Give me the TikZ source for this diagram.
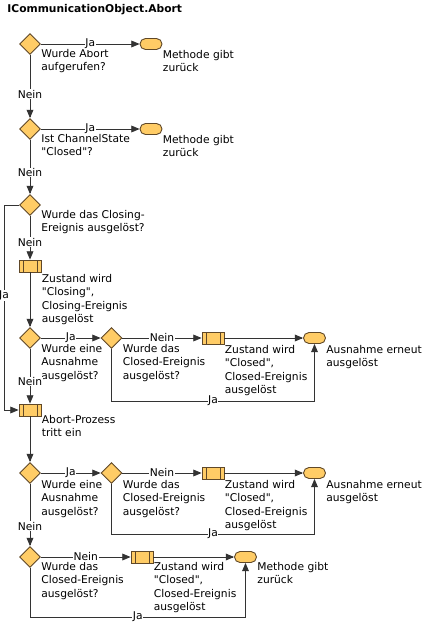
\documentclass[tikz,border=0pt]{standalone}
\usepackage{fontspec}
\setmainfont{DejaVu Sans}[Ligatures=TeXOff]
\usepackage{tikz}
\usetikzlibrary{positioning}
\usetikzlibrary{shapes.geometric,arrows}
\definecolor{boxfill}{RGB}{255,204,102}
\definecolor{boxline}{RGB}{96,72,40}
\definecolor{flowline}{RGB}{51,51,51}
\tikzset{%
  decision/.style = {draw=boxline, fill=boxfill, diamond, aspect=1,
    minimum width=21pt, minimum height=21pt, inner sep=0pt}, % Frage
  process/.style  = {draw=boxline, fill=boxfill, rectangle, inner sep=0pt,
    minimum width=22pt, minimum height=12pt,
    path picture={\draw[boxline]
      ([xshift=4pt]path picture bounding box.north west) -- ([xshift=4pt]path picture bounding box.south west)
      ([xshift=-4pt]path picture bounding box.north east) -- ([xshift=-4pt]path picture bounding box.south east);}},
  terminal/.style = {draw=boxline, fill=boxfill, rectangle, rounded corners=5.5pt,
    minimum width=22pt, minimum height=11pt, inner sep=0pt}, % Ende
  note/.style     = {anchor=north west, align=left, inner sep=0pt,
    font=\fontsize{10.7}{13.3}\selectfont},
  tag/.style      = {fill=white, inner sep=0.6pt, font=\fontsize{10.7}{13.3}\selectfont}
}

\begin{document}
\begin{tikzpicture}[x=1pt, y=-1pt, thick, line width=0.9pt, draw=flowline, >=triangle 45]

	\useasboundingbox (0,0) rectangle (424,623);

	\draw node at (7,10) [anchor=west, inner sep=0pt, font=\bfseries\fontsize{10.7}{13.3}\selectfont] (title) {ICommunicationObject.Abort};

	\draw node at (30,44) [decision] (ask1) {};
	\draw node [decision, below of=ask1, node distance = 85pt] (ask2) {};
	\draw node [decision, below of=ask2, node distance = 76pt] (ask3) {};
	\draw node [process, below of=ask3, node distance = 61pt] (proc1) {};
	\draw node [decision, below of=proc1, node distance = 72pt] (ask4) {};
	\draw node [process, below of=ask4, node distance = 72pt] (proc3) {};
	\draw node [decision, below of=proc3, node distance = 63pt] (ask6) {};
	\draw node [decision, below of=ask6, node distance = 84pt] (ask8) {};

	\draw node [terminal, right of=ask1, node distance = 121pt] (end1) {};
	\draw node [terminal, right of=ask2, node distance = 121pt] (end2) {};

	\draw node [decision, right of=ask4, node distance = 81.5pt] (ask5) {};
	\draw node [process, right of=ask5, node distance = 101.5pt] (proc2) {};
	\draw node [terminal, right of=proc2, node distance = 101.5pt] (end3) {};

	\draw node [decision, right of=ask6, node distance = 81.5pt] (ask7) {};
	\draw node [process, right of=ask7, node distance = 101.5pt] (proc4) {};
	\draw node [terminal, right of=proc4, node distance = 101.5pt] (end4) {};

	\draw node [process, right of=ask8, node distance = 112pt] (proc5) {};
	\draw node [terminal, right of=proc5, node distance = 103.5pt] (end5) {};

	% texts
	\node [note] (txt1) at ([yshift=-5pt]ask1.east) {Wurde Abort\\aufgerufen?};
	\node [note] (txt2) at ([yshift=-5pt]ask2.east) {Ist ChannelState\\"Closed"?};
	\node [note] (txt3) at ([yshift=-5pt]ask3.east) {Wurde das Closing-\\Ereignis ausgelöst?};
	\node [note] (txt4) at ([yshift=-6pt]ask4.east) {Wurde eine\\Ausnahme\\ausgelöst?};
	\node [note] (txt5) at ([yshift=-6pt]ask5.east) {Wurde das\\Closed-Ereignis\\ausgelöst?};
	\node [note] (txt6) at ([yshift=-7pt]ask6.east) {Wurde eine\\Ausnahme\\ausgelöst?};
	\node [note] (txt7) at ([yshift=-7pt]ask7.east) {Wurde das\\Closed-Ereignis\\ausgelöst?};
	\node [note] (txt8) at ([yshift=-5pt]ask8.east) {Wurde das\\Closed-Ereignis\\ausgelöst?};

	\node [note] (txt9) at ([yshift=-8pt]proc1.east) {Zustand wird\\"Closing",\\Closing-Ereignis\\ausgelöst};
	\node [note] (txt10) at ([yshift=-7pt]proc2.east) {Zustand wird\\"Closed",\\Closed-Ereignis\\ausgelöst};
	\node [note] (txt11) at ([yshift=-5pt]proc3.east) {Abort-Prozess\\tritt ein};
	\node [note] (txt12) at ([yshift=-7pt]proc4.east) {Zustand wird\\"Closed",\\Closed-Ereignis\\ausgelöst};
	\node [note] (txt13) at ([yshift=-5pt]proc5.east) {Zustand wird\\"Closed",\\Closed-Ereignis\\ausgelöst};

	\node [note] (txt14) at ([yshift=-6pt]end1.east) {Methode gibt\\zurück};
	\node [note] (txt15) at ([yshift=-6pt]end2.east) {Methode gibt\\zurück};
	\node [note] (txt16) at ([yshift=-7pt]end3.east) {Ausnahme erneut\\ausgelöst};
	\node [note] (txt17) at ([yshift=-7pt]end4.east) {Ausnahme erneut\\ausgelöst};
	\node [note] (txt18) at ([yshift=-5pt]end5.east) {Methode gibt\\zurück};

	\draw[->] (ask1.east) -- node[tag] {Ja} (end1.west);
	\draw[->] (ask2.east) -- node[tag] {Ja} (end2.west);

	\draw[->] (ask1.south) -- node[tag, pos=0.62] {Nein} (ask2.north);
	\draw[->] (ask2.south) -- node[tag, pos=0.6] {Nein} (ask3.north);
	\draw[->] (ask3.south) -- node[tag, pos=0.6] {Nein} (proc1.north);
	\draw[->] (proc1.south) -- (ask4.north);
	\draw[->] (ask4.south) -- node[tag, pos=0.6] {Nein} (proc3.north);
	\draw[->] (proc3.south) -- (ask6.north);
	\draw[->] (ask6.south) -- node[tag, pos=0.68] {Nein} (ask8.north);

	\draw[->] (ask3.west) -- ++(-15,0) |- node[tag, pos=0.22] {Ja} (proc3.west);

	\draw[->] (ask4.east) -- node[tag] {Ja} (ask5.west);
	\draw[->] (ask5.east) -- node[tag] {Nein} (proc2.west);
	\draw[->] (proc2.east) -- (end3.west);
	\draw[->] (ask5.south) -- ++(0,52) -| node[tag, pos=0.25] {Ja} (end3.south);

	\draw[->] (ask6.east) -- node[tag] {Ja} (ask7.west);
	\draw[->] (ask7.east) -- node[tag] {Nein} (proc4.west);
	\draw[->] (proc4.east) -- (end4.west);
	\draw[->] (ask7.south) -- ++(0,50) -| node[tag, pos=0.25] {Ja} (end4.south);

	\draw[->] (ask8.east) -- node[tag] {Nein} (proc5.west);
	\draw[->] (proc5.east) -- (end5.west);
	\draw[->] (ask8.south) -- ++(0,49) -| node[tag, pos=0.25] {Ja} (end5.south);

\end{tikzpicture}
\end{document}
